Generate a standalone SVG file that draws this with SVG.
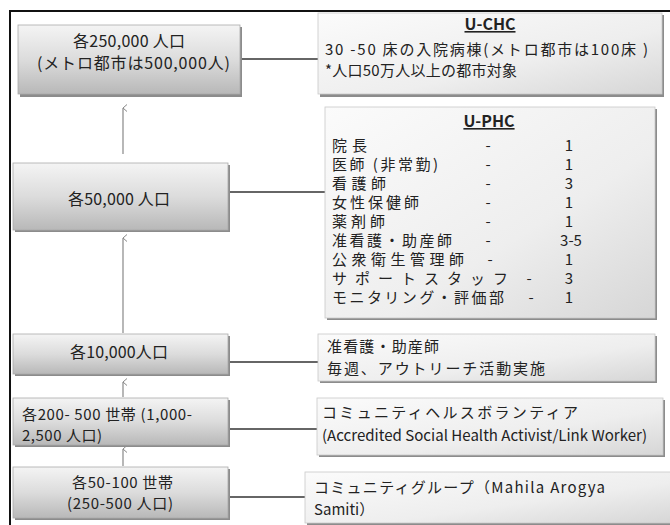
<svg xmlns="http://www.w3.org/2000/svg" width="670" height="525" viewBox="0 0 670 525">
<defs>
<linearGradient id="gl" x1="0" y1="0" x2="0" y2="1">
<stop offset="0" stop-color="#f4f4f4"/>
<stop offset="0.5" stop-color="#dcdcdc"/>
<stop offset="1" stop-color="#b8b8b8"/>
</linearGradient>
<linearGradient id="gr" x1="0" y1="0" x2="1" y2="1">
<stop offset="0" stop-color="#fbfbfb"/>
<stop offset="0.6" stop-color="#eeeeee"/>
<stop offset="1" stop-color="#d6d6d6"/>
</linearGradient>
<marker id="ah" markerWidth="8" markerHeight="8" refX="4" refY="1" orient="auto-start-reverse" markerUnits="userSpaceOnUse" viewBox="0 0 8 8">
<path d="M0.5,5 L4,1 L7.5,5" fill="none" stroke="#888" stroke-width="1"/>
</marker>
</defs>
<style>
text{font-family:"Noto Sans CJK JP","Noto Sans",sans-serif;fill:#222;}
.t{font-size:16px;}
.s{font-size:15px;}
.r{font-size:15px;}
.c{text-anchor:middle;}
.sh{fill:#8c8c8c;}
.bl{fill:url(#gl);stroke:#aaa;stroke-width:0.8;}
.br{fill:url(#gr);stroke:#c8c8c8;stroke-width:0.8;}
.con{stroke:#333;stroke-width:1.5;fill:none;}
.arr{stroke:#888;stroke-width:1.2;fill:none;}
.h{font-weight:bold;text-decoration:underline;}
</style>
<rect width="670" height="525" fill="#fff"/>
<path d="M10,525 V11 H670" fill="none" stroke="#111" stroke-width="2"/>

<g id="connectors">
<line class="con" x1="240" y1="59" x2="318" y2="59"/>
<line class="con" x1="228" y1="192" x2="325" y2="192"/>
<line class="con" x1="228" y1="362" x2="318" y2="362"/>
<line class="con" x1="228" y1="429" x2="317" y2="429"/>
<line class="con" x1="228" y1="497" x2="305" y2="497"/>
<line class="arr" x1="123" y1="154" x2="123" y2="108" marker-end="url(#ah)"/>
<line class="arr" x1="123" y1="333" x2="123" y2="238" marker-end="url(#ah)"/>
<line class="arr" x1="123" y1="397" x2="123" y2="382" marker-end="url(#ah)"/>
<line class="arr" x1="123" y1="466" x2="123" y2="449" marker-end="url(#ah)"/>
</g>

<g id="n250000">
<rect class="sh" x="20" y="27" width="222" height="70"/>
<rect class="bl" x="18" y="25" width="222" height="69"/>
<text class="t" x="73" y="47" textLength="112">各250,000 人口</text>
<text class="t" x="37" y="69" textLength="193">(メトロ都市は500,000人)</text>
</g>

<g id="uchc">
<rect class="sh" x="320" y="15" width="344" height="82"/>
<rect class="br" x="318" y="13" width="344" height="81"/>
<text class="t c h" x="490" y="30">U-CHC</text>
<text class="s" x="325" y="55" textLength="323">30 -50 床の入院病棟(メトロ都市は100床 )</text>
<text class="s" x="325" y="76" textLength="192">*人口50万人以上の都市対象</text>
</g>

<g id="n50000">
<rect class="sh" x="15" y="165" width="215" height="67"/>
<rect class="bl" x="13" y="163" width="215" height="67"/>
<text class="t" x="68" y="205" textLength="102">各50,000 人口</text>
</g>

<g id="uphc">
<rect class="sh" x="327" y="109" width="330" height="211"/>
<rect class="br" x="325" y="107" width="330" height="211"/>
<text class="t c h" x="489" y="127">U-PHC</text>
<text class="r" x="332" y="151" textLength="35">院長</text><text class="r c" x="488" y="151">-</text><text class="r c" x="569" y="151">1</text>
<text class="r" x="332" y="170" textLength="106">医師 (非常勤)</text><text class="r c" x="488" y="170">-</text><text class="r c" x="569" y="170">1</text>
<text class="r" x="332" y="189" textLength="54">看護師</text><text class="r c" x="488" y="189">-</text><text class="r c" x="569" y="189">3</text>
<text class="r" x="332" y="208" textLength="87">女性保健師</text><text class="r c" x="488" y="208">-</text><text class="r c" x="569" y="208">1</text>
<text class="r" x="332" y="227" textLength="53">薬剤師</text><text class="r c" x="488" y="227">-</text><text class="r c" x="569" y="227">1</text>
<text class="r" x="332" y="246" textLength="120">准看護・助産師</text><text class="r c" x="488" y="246">-</text><text class="r c" x="571" y="246">3-5</text>
<text class="r" x="332" y="265" textLength="132">公衆衛生管理師</text><text class="r c" x="490" y="265">-</text><text class="r c" x="569" y="265">1</text>
<text class="r" x="332" y="284" textLength="176">サポートスタッフ</text><text class="r c" x="529" y="284">-</text><text class="r c" x="569" y="284">3</text>
<text class="r" x="332" y="303" textLength="172">モニタリング・評価部</text><text class="r c" x="531" y="303">-</text><text class="r c" x="569" y="303">1</text>
</g>

<g id="n10000">
<rect class="sh" x="15" y="336" width="215" height="40"/>
<rect class="bl" x="13" y="334" width="215" height="40"/>
<text class="t" x="70" y="358" textLength="98">各10,000人口</text>
</g>

<g id="anm">
<rect class="sh" x="320" y="336" width="337" height="47"/>
<rect class="br" x="318" y="334" width="337" height="47"/>
<text class="s" x="327" y="352" textLength="112">准看護・助産師</text>
<text class="s" x="327" y="374" textLength="218">毎週、アウトリーチ活動実施</text>
</g>

<g id="n200500">
<rect class="sh" x="15" y="400" width="215" height="47"/>
<rect class="bl" x="13" y="398" width="215" height="47"/>
<text class="s" x="22" y="420" textLength="170">各200- 500 世帯 (1,000-</text>
<text class="s" x="22" y="441" textLength="80">2,500 人口)</text>
</g>

<g id="asha">
<rect class="sh" x="319" y="400" width="346" height="57"/>
<rect class="br" x="317" y="398" width="346" height="57"/>
<text class="s" x="322" y="418" textLength="256">コミュニティヘルスボランティア</text>
<text class="s" x="322" y="441" textLength="325" lengthAdjust="spacingAndGlyphs">(Accredited Social Health Activist/Link Worker)</text>
</g>

<g id="n50100">
<rect class="sh" x="15" y="469" width="215" height="51"/>
<rect class="bl" x="13" y="467" width="215" height="51"/>
<text class="s" x="72" y="488" textLength="101">各50-100 世帯</text>
<text class="s" x="67" y="509" textLength="106">(250-500 人口)</text>
</g>

<g id="mas">
<rect class="sh" x="307" y="474" width="365" height="53"/>
<rect class="br" x="305" y="472" width="367" height="51"/>
<text class="s" x="314" y="493" textLength="291">コミュニティグループ（Mahila Arogya</text>
<text class="s" x="314" y="515">Samiti）</text>
</g>
</svg>
